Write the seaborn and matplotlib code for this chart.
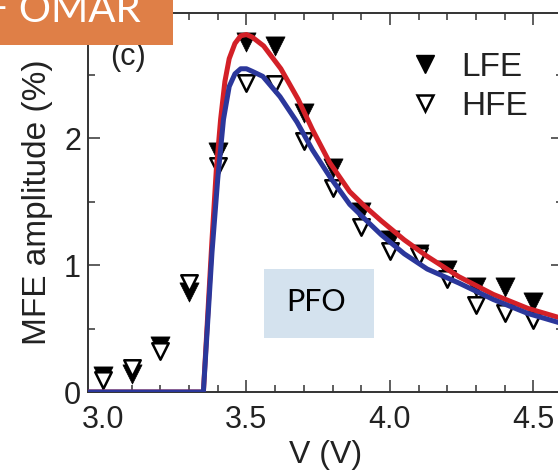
import numpy as np
import pandas as pd
import matplotlib
matplotlib.use('Agg')
import matplotlib.pyplot as plt
from matplotlib.lines import Line2D
from matplotlib.patches import Rectangle
import seaborn as sns

# measured points
volts = [3.0, 3.1, 3.2, 3.3, 3.4, 3.5, 3.6, 3.7, 3.8, 3.9, 4.0, 4.1, 4.2, 4.3, 4.4, 4.5]
lfe = [0.13, 0.14, 0.36, 0.79, 1.89, 2.76, 2.73, 2.20, 1.77, 1.42, 1.20, 1.09, 0.96, 0.83, 0.83, 0.71]
hfe = [0.095, 0.19, 0.32, 0.86, 1.78, 2.44, 2.43, 1.98, 1.61, 1.30, 1.11, 1.07, 0.89, 0.69, 0.62, 0.57]

# fitted curves
fit_v_red = [2.90, 3.35, 3.365, 3.38, 3.395, 3.41, 3.425, 3.44, 3.46, 3.48, 3.50, 3.52, 3.56, 3.62,
             3.68, 3.73, 3.79, 3.86, 3.91, 3.97, 4.05, 4.13, 4.24, 4.36, 4.48, 4.60, 4.70]
fit_lfe = [0.0, 0.0, 0.60, 1.20, 1.75, 2.15, 2.45, 2.63, 2.75, 2.81, 2.82, 2.80, 2.73, 2.55,
           2.31, 2.07, 1.81, 1.58, 1.47, 1.35, 1.20, 1.07, 0.91, 0.77, 0.66, 0.58, 0.53]
fit_v_blue = [2.90, 3.35, 3.365, 3.38, 3.40, 3.42, 3.44, 3.46, 3.48, 3.50, 3.52, 3.557, 3.617,
              3.676, 3.73, 3.79, 3.86, 3.91, 3.97, 4.05, 4.13, 4.24, 4.36, 4.48, 4.60, 4.70]
fit_hfe = [0.0, 0.0, 0.55, 1.10, 1.68, 2.15, 2.41, 2.51, 2.55, 2.55, 2.53, 2.49, 2.33,
           2.13, 1.91, 1.70, 1.48, 1.37, 1.24, 1.09, 0.97, 0.86, 0.73, 0.62, 0.54, 0.49]

sns.set_style('ticks')
plt.rcParams['font.family'] = ['Liberation Sans', 'DejaVu Sans']

fig = plt.figure(figsize=(5.58, 4.70), dpi=100)
ax = fig.add_axes([88/558, 78/470, 475/558, 379/470])

sns.scatterplot(x=volts, y=lfe, marker='v', s=190, color='black', edgecolor='black',
                linewidth=0.5, ax=ax, zorder=2)
sns.scatterplot(x=volts, y=hfe, marker='v', s=140, facecolor='white', edgecolor='black',
                linewidth=1.8, ax=ax, zorder=2.1)
sns.lineplot(x=fit_v_red, y=fit_lfe, color='#d32027', linewidth=3.6, ax=ax, zorder=3)
sns.lineplot(x=fit_v_blue, y=fit_hfe, color='#2b379b', linewidth=3.6, ax=ax, zorder=3.1)

ax.set_xlim(2.948, 4.603)
ax.set_ylim(0, 2.99)
ax.set_xticks([3.0, 3.5, 4.0, 4.5])
ax.set_xticklabels(['3.0', '3.5', '4.0', '4.5'])
ax.set_xticks(np.arange(3.0, 4.61, 0.1), minor=True)
ax.set_yticks([0, 1, 2])
ax.set_yticks([0.5, 1.5, 2.5], minor=True)
ax.tick_params(which='both', direction='in', top=True, right=True, width=1.1,
               color='#333333', labelsize=22, labelcolor='#222222')
ax.tick_params(which='major', length=8.5)
ax.tick_params(which='minor', length=5)
ax.tick_params(axis='x', pad=9)
ax.tick_params(axis='y', pad=5)
for sp in ax.spines.values():
    sp.set_linewidth(1.4)
    sp.set_color('#333333')

ax.set_xlabel('V (V)', fontsize=23, color='#222222', labelpad=4)
ax.set_ylabel('MFE amplitude (%)', fontsize=24, color='#222222', labelpad=8)

ax.text(22/475, (392-57)/379, '(c)', transform=ax.transAxes, fontsize=22, color='#222222',
        ha='left', va='center')

handles = [Line2D([], [], marker='v', linestyle='none', markersize=13.5, color='black'),
           Line2D([], [], marker='v', linestyle='none', markersize=11, markerfacecolor='white',
                  markeredgecolor='black', markeredgewidth=1.8)]
ax.legend(handles, ['LFE', 'HFE'], loc='upper left', bbox_to_anchor=(0.674, 0.898),
          frameon=False, fontsize=24, handlelength=1.0, handletextpad=0.6,
          labelspacing=0.25, borderpad=0, borderaxespad=0, labelcolor='#222222')

# orange banner and PFO label box
fig.add_artist(Rectangle((0, 1 - 45/470), 173/558, 45/470, transform=fig.transFigure,
                         facecolor='#df7f47', edgecolor='none', zorder=5))
fig.text(141/558, 1 - 22/470, 'F OMAR', color='white', fontsize=29, family='Lato',
         ha='right', va='baseline', zorder=6)
fig.add_artist(Rectangle((264/558, 1 - 338/470), 110/558, 69/470, transform=fig.transFigure,
                         facecolor='#d4e2ee', edgecolor='none', zorder=5))
fig.text(316/558, 1 - 302/470, 'PFO', color='black', fontsize=22, family='Lato',
         ha='center', va='center', zorder=6)

fig.savefig('out.png', dpi=100)
